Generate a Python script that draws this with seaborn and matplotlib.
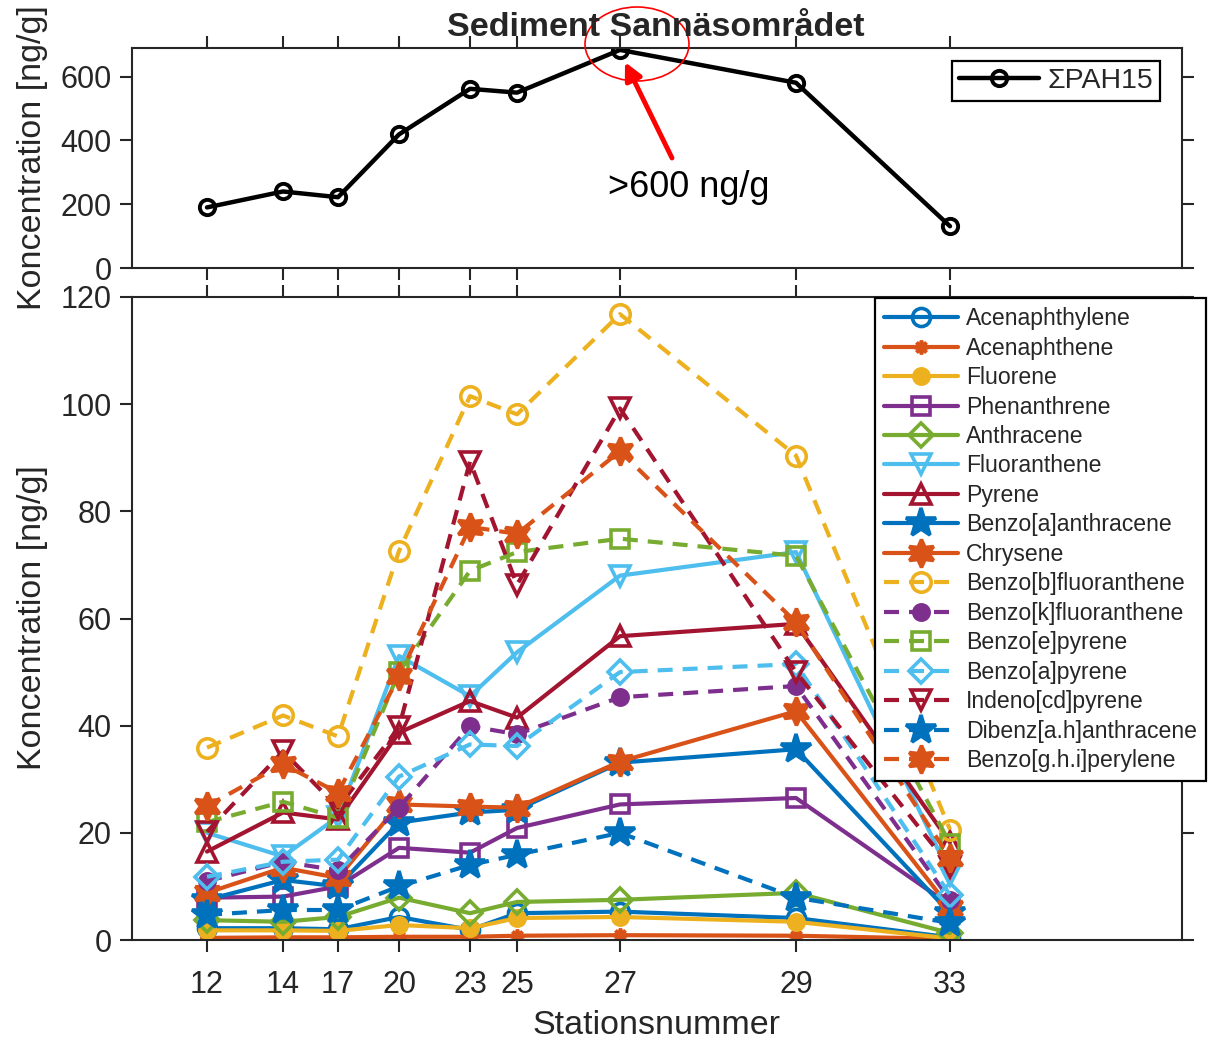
import matplotlib
matplotlib.use("Agg")
import matplotlib.pyplot as plt
import seaborn as sns
from matplotlib.patches import Ellipse

# Stations along the transect and their plotting positions
stations = ["12", "14", "17", "20", "23", "25", "27", "29", "33"]
station_pos = [75, 151, 206, 267, 338, 385, 488, 664, 818]

# Total of 15 PAHs [ng/g]
sum_pah15 = [190, 240, 222, 419, 562, 550, 684, 581, 131]

# Individual PAH concentrations [ng/g]
acenaphthylene = [2.2, 2.2, 2.0, 4.3, 1.9, 5.0, 5.3, 4.1, 0.5]
acenaphthene = [0.4, 0.5, 0.5, 0.6, 0.6, 0.8, 0.9, 0.8, 0.2]
fluorene = [1.8, 1.8, 1.7, 2.8, 2.2, 4.1, 4.3, 3.4, 0.3]
phenanthrene = [7.9, 8.1, 10.0, 17.2, 16.3, 20.9, 25.3, 26.5, 6.5]
anthracene = [3.7, 3.4, 4.3, 7.9, 5.0, 7.1, 7.5, 8.8, 1.3]
fluoranthene = [20.0, 15.6, 23.0, 53.0, 45.5, 53.7, 68.0, 72.4, 12.2]
pyrene = [16.5, 23.8, 22.5, 38.7, 44.6, 41.5, 56.7, 59.0, 18.2]
benzo_a_anthracene = [7.5, 11.2, 10.0, 21.9, 23.8, 24.3, 33.1, 35.6, 5.0]
chrysene = [8.8, 13.5, 11.6, 25.3, 24.9, 24.7, 33.3, 42.7, 6.0]
benzo_b_fluoranthene = [35.9, 41.9, 38.0, 72.6, 101.5, 98.1, 116.8, 90.4, 20.6]
benzo_k_fluoranthene = [11.0, 14.6, 13.0, 24.7, 39.9, 38.4, 45.3, 47.4, 7.5]
benzo_e_pyrene = [22.0, 25.8, 22.8, 50.0, 68.9, 72.4, 74.9, 71.7, 18.0]
benzo_a_pyrene = [11.8, 14.6, 15.0, 30.5, 36.5, 36.2, 50.0, 51.5, 8.4]
indeno_cd_pyrene = [20.2, 35.2, 24.7, 39.7, 89.3, 66.3, 99.2, 50.0, 13.7]
dibenz_ah_anthracene = [4.7, 5.6, 5.6, 10.0, 14.0, 15.9, 20.0, 7.9, 3.2]
benzo_ghi_perylene = [25.0, 32.8, 27.5, 49.2, 77.1, 75.8, 91.2, 59.3, 15.3]

compound_names = [
    "Acenaphthylene", "Acenaphthene", "Fluorene", "Phenanthrene", "Anthracene",
    "Fluoranthene", "Pyrene", "Benzo[a]anthracene", "Chrysene",
    "Benzo[b]fluoranthene", "Benzo[k]fluoranthene", "Benzo[e]pyrene",
    "Benzo[a]pyrene", "Indeno[cd]pyrene", "Dibenz[a.h]anthracene",
    "Benzo[g.h.i]perylene",
]
compound_values = [
    acenaphthylene, acenaphthene, fluorene, phenanthrene, anthracene,
    fluoranthene, pyrene, benzo_a_anthracene, chrysene,
    benzo_b_fluoranthene, benzo_k_fluoranthene, benzo_e_pyrene,
    benzo_a_pyrene, indeno_cd_pyrene, dibenz_ah_anthracene,
    benzo_ghi_perylene,
]

# Line colour order
BLUE, ORANGE, YELLOW = "#0072BD", "#D95319", "#EDB120"
PURPLE, GREEN, CYAN, RED = "#7E2F8E", "#77AC30", "#4DBEEE", "#A2142F"
colors = [BLUE, ORANGE, YELLOW, PURPLE, GREEN, CYAN, RED, BLUE, ORANGE,
          YELLOW, PURPLE, GREEN, CYAN, RED, BLUE, ORANGE]
HEXAGRAM = (6, 1, 0)
ASTERISK = (8, 2, 0)
markers = ["o", ASTERISK, "o", "s", "D", "v", "^", "*", HEXAGRAM,
           "o", "o", "s", "D", "v", "*", HEXAGRAM]
filled = [False, False, True, False, False, False, False, True, True,
          False, True, False, False, False, True, True]
sizes = [13, 10, 11, 13, 12, 15, 15, 22, 20, 14, 11, 13, 12, 15, 22, 20]
dashed = [False] * 9 + [True] * 7

sns.set_theme(style="ticks")
plt.rcParams["font.family"] = ["Liberation Sans", "DejaVu Sans"]
INK = "#262626"

W, H = 1209, 1042
fig = plt.figure(figsize=(W / 100, H / 100), dpi=100)
ax_top = fig.add_axes([132 / W, 1 - 268 / H, 1050 / W, 220 / H])
ax_bot = fig.add_axes([132 / W, 1 - 940 / H, 1050 / W, 643 / H])

for ax in (ax_top, ax_bot):
    for sp in ax.spines.values():
        sp.set_visible(True)
        sp.set_linewidth(1.5)
        sp.set_color(INK)
    ax.set_xlim(0, 1050)
    ax.set_xticks(station_pos)
    ax.tick_params(direction="out", top=True, right=True, length=8.5,
                   width=1.5, color=INK, labelcolor=INK, labelsize=22)
    ax.tick_params(axis="y", pad=6)

# Upper panel: total PAH15
sns.lineplot(x=station_pos, y=sum_pah15, ax=ax_top, color="black",
             marker="o", markersize=11, markerfacecolor="none",
             markeredgecolor="black", markeredgewidth=2.8, linewidth=3.2,
             label="\u03a3PAH15", sort=False, errorbar=None)
ax_top.set_ylim(0, 690)
ax_top.set_yticks([0, 200, 400, 600])
ax_top.set_xticklabels([])
ax_top.set_xlabel("")
ax_top.set_ylabel("")
leg_top = ax_top.legend(loc="upper right", bbox_to_anchor=(1160 / W, 1 - 61 / H),
                        bbox_transform=fig.transFigure, fontsize=20.5,
                        handlelength=2.8, handletextpad=0.3, borderpad=0.25,
                        borderaxespad=0, fancybox=False, framealpha=1,
                        edgecolor="black")
leg_top.get_frame().set_linewidth(1.6)

# Annotation of the maximum
ax_top.annotate("", xy=(493, 646), xytext=(540, 345),
                arrowprops=dict(arrowstyle="-|>", color="red", lw=3.5,
                                mutation_scale=26, shrinkA=0, shrinkB=0),
                annotation_clip=False)
ax_top.text(557, 254, ">600 ng/g", fontsize=26, ha="center", va="center",
            color="black")
fig.add_artist(Ellipse((637 / W, 1 - 44 / H), 104 / W, 74 / H,
                       transform=fig.transFigure, fill=False,
                       edgecolor="red", lw=1.2))

# Lower panel: individual PAHs
for name, vals, c, m, f, ms, d in zip(compound_names, compound_values, colors,
                                      markers, filled, sizes, dashed):
    ls = (0, (3.6, 2.4)) if d else "-"
    sns.lineplot(x=station_pos, y=vals, ax=ax_bot, color=c, linestyle=ls,
                 linewidth=3.0, marker=m, markersize=ms,
                 markerfacecolor=c if f else "none", markeredgecolor=c,
                 markeredgewidth=2.6, label=name, sort=False, errorbar=None)
ax_bot.set_ylim(0, 120)
ax_bot.set_yticks([0, 20, 40, 60, 80, 100, 120])
ax_bot.set_xticklabels(stations)
ax_bot.tick_params(axis="x", pad=13)
ax_bot.set_xlabel("")
ax_bot.set_ylabel("")

handles, labels = ax_bot.get_legend_handles_labels()
leg = ax_bot.legend(handles, labels, loc="upper left",
                    bbox_to_anchor=(875 / W, 1 - 298 / H),
                    bbox_transform=fig.transFigure, fontsize=16.6,
                    handlelength=3.2, handletextpad=0.35, labelspacing=0.28,
                    borderpad=0.4, borderaxespad=0, fancybox=False,
                    framealpha=1, edgecolor="black")
leg.get_frame().set_linewidth(1.6)

# Titles and axis labels
fig.text(656 / W, 1 - 28 / H, "Sediment Sann\u00e4somr\u00e5det", fontsize=24.5,
         fontweight="bold", ha="center", va="center", color=INK)
fig.text(33 / W, 1 - 158 / H, "Koncentration [ng/g]", fontsize=24.5,
         rotation=90, ha="center", va="center", color=INK)
fig.text(33 / W, 1 - 618 / H, "Koncentration [ng/g]", fontsize=24.5,
         rotation=90, ha="center", va="center", color=INK)
fig.text(656 / W, 1 - 1025 / H, "Stationsnummer", fontsize=24.5,
         ha="center", va="center", color=INK)

fig.savefig("out.png", dpi=100, facecolor="white")
